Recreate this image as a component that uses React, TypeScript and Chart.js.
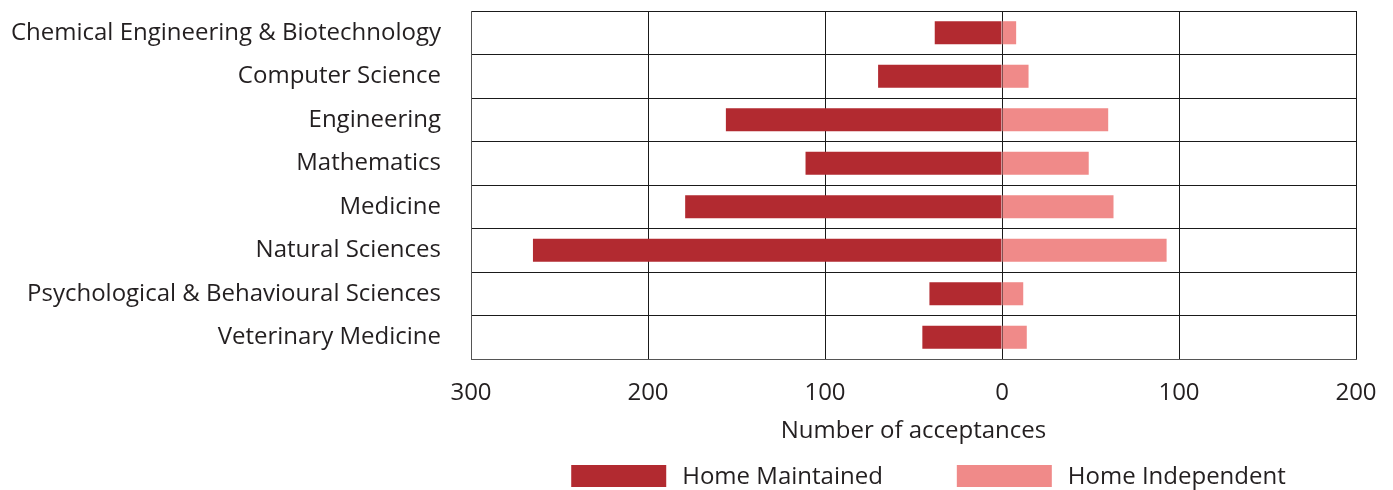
import React, { useEffect, useRef } from "react";
import { Chart, registerables } from "chart.js";

Chart.register(...registerables);

const categories = [
  "Chemical Engineering & Biotechnology",
  "Computer Science",
  "Engineering",
  "Mathematics",
  "Medicine",
  "Natural Sciences",
  "Psychological & Behavioural Sciences",
  "Veterinary Medicine",
];
const homeMaintained = [38, 70, 156, 111, 179, 265, 41, 45];
const homeIndependent = [8, 15, 60, 49, 63, 93, 12, 14];
const seriesNames = ["Home Maintained", "Home Independent"];
const seriesColors = ["#B22A30", "#F08A89"];
const axisTitle = "Number of acceptances";
const xMin = -300;
const xMax = 200;
const xStep = 100;

const FONT = "'Open Sans', sans-serif";
const TEXT = "#231f20";
const FONT_SIZE = 24;

const legendPlugin = {
  id: "bottomLegend",
  afterDraw(chart: any) {
    const ctx = chart.ctx;
    const xScale = chart.scales.x;
    const area = chart.chartArea;
    ctx.save();
    ctx.font = `${FONT_SIZE}px ${FONT}`;
    const boxW = 95;
    const boxH = 22;
    const gap = 16;
    const spacing = 74;
    const widths = seriesNames.map((n) => boxW + gap + ctx.measureText(n).width);
    const total = widths.reduce((a, b) => a + b, 0) + spacing * (widths.length - 1);
    let x = (area.left + area.right) / 2 - total / 2 + 15;
    const top = xScale.bottom + 16;
    seriesNames.forEach((name, i) => {
      ctx.fillStyle = seriesColors[i];
      ctx.fillRect(x, top, boxW, boxH);
      ctx.fillStyle = TEXT;
      ctx.textBaseline = "middle";
      ctx.textAlign = "left";
      ctx.fillText(name, x + boxW + gap, top + boxH / 2 + 1);
      x += widths[i] + spacing;
    });
    ctx.restore();
  },
};

export default function App() {
  const canvasRef = useRef<HTMLCanvasElement | null>(null);

  useEffect(() => {
    if (!canvasRef.current) return;
    const chart = new Chart(canvasRef.current, {
      type: "bar",
      data: {
        labels: categories,
        datasets: [
          {
            label: seriesNames[0],
            data: homeMaintained.map((v) => -v),
            backgroundColor: seriesColors[0],
            borderWidth: 0,
            barPercentage: 0.53,
            categoryPercentage: 1,
          },
          {
            label: seriesNames[1],
            data: homeIndependent,
            backgroundColor: seriesColors[1],
            borderWidth: 0,
            barPercentage: 0.53,
            categoryPercentage: 1,
          },
        ],
      },
      options: {
        indexAxis: "y",
        animation: false,
        responsive: true,
        maintainAspectRatio: false,
        layout: { padding: { left: 8, right: 37, top: 11, bottom: 41 } },
        plugins: {
          legend: { display: false },
          tooltip: { enabled: false },
        },
        scales: {
          x: {
            stacked: true,
            min: xMin,
            max: xMax,
            z: 1,
            afterFit: (scale: any) => {
              scale.height = 90;
              scale.paddingLeft = 0;
              scale.paddingRight = 0;
            },
            ticks: {
              stepSize: xStep,
              padding: 20,
              color: TEXT,
              font: { family: FONT, size: FONT_SIZE },
              callback: (v: any) => String(Math.abs(Number(v))),
              maxRotation: 0,
            },
            grid: { color: "#1a1a1a", lineWidth: 1, drawTicks: false },
            border: { color: "#555", width: 1 },
            title: {
              display: true,
              text: axisTitle,
              color: TEXT,
              font: { family: FONT, size: FONT_SIZE },
              padding: { top: 0, bottom: 3 },
            },
          },
          y: {
            stacked: true,
            afterFit: (scale: any) => {
              scale.width = 463;
              scale.paddingTop = 0;
              scale.paddingBottom = 0;
            },
            ticks: {
              padding: 30,
              color: TEXT,
              font: { family: FONT, size: FONT_SIZE },
            },
            grid: { color: "#1a1a1a", lineWidth: 1, drawTicks: false, offset: true },
            border: { color: "#555", width: 1 },
          },
        },
      },
      plugins: [legendPlugin],
    });
    return () => chart.destroy();
  }, []);

  return (
    <div style={{ position: "absolute", left: 0, top: 0, width: 1393, height: 490 }}>
      <canvas ref={canvasRef} />
    </div>
  );
}
